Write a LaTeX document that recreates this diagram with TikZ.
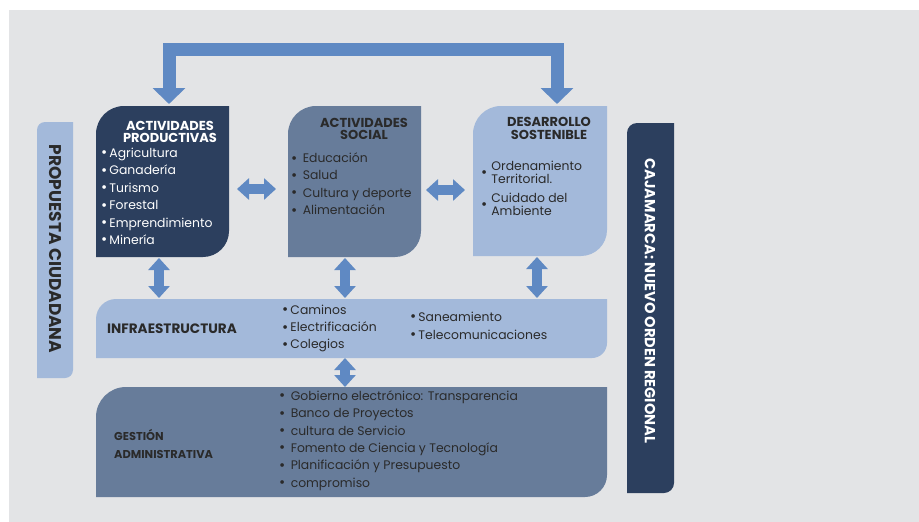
\documentclass[tikz,border=0pt]{standalone}
\usepackage{fontspec}
\setmainfont{Poppins}
\usetikzlibrary{arrows.meta,calc}
\definecolor{navy}{HTML}{2C3F5E}
\definecolor{midb}{HTML}{677C9A}
\definecolor{lightb}{HTML}{A3B9DA}
\definecolor{bggray}{HTML}{E3E4E6}
\definecolor{arrowb}{HTML}{5F89C3}
\definecolor{txtdark}{HTML}{2A2A2A}
\newcommand\cbox[7]{%
  \fill[#1] (#2,-#3-#6) arc[start angle=180,end angle=90,radius=#6pt] -- (#4,-#3)
    -- (#4,-#5+#7) arc[start angle=0,end angle=-90,radius=#7pt] -- (#2,-#5) -- cycle;}
\newcommand\bul{{\fontsize{15}{0}\selectfont\raisebox{-0.5pt}{\textbullet}}}
\tikzset{
  dtip/.tip={Triangle[width=21pt,length=12pt]},
  btip/.tip={Triangle[width=32pt,length=16pt]},
  dbl/.style={draw=arrowb, line width=10pt, dtip-dtip},
  big/.style={draw=arrowb, line width=13pt, btip-btip, line join=miter},
  area/.style={rectangle, inner sep=0pt, outer sep=0pt},
  ttl/.style={inner sep=0pt, align=center, font=\fontsize{13}{12.5}\selectfont\bfseries},
  lst/.style={inner sep=0pt, align=left, anchor=west, font=\fontsize{12.4}{17.4}\selectfont},
}
\begin{document}
\begin{tikzpicture}[x=1pt,y=1pt]
\useasboundingbox (0,0) rectangle (919,-522);
\fill[white] (0,0) rectangle (919,-522);
\fill[bggray] (9,-10) rectangle (919,-522);
% boxes
\cbox{navy}{96}{106}{229}{257}{28}{26}
\cbox{midb}{288}{106}{421}{257}{28}{26}
\cbox{lightb}{473}{106}{607}{256}{28}{26}
\cbox{lightb}{96}{299}{607}{358}{20}{15}
\cbox{midb}{96}{387}{607}{497}{30}{22}
\cbox{lightb}{37}{122}{73}{378}{8}{8}
\cbox{navy}{627}{123}{674}{493}{10}{10}
\node[area, minimum width=133pt, minimum height=151pt] (b1) at (162.5,-181.5) {};
\node[area, minimum width=133pt, minimum height=151pt] (b2) at (354.5,-181.5) {};
\node[area, minimum width=134pt, minimum height=150pt] (b3) at (540,-181) {};
\node[area, minimum width=511pt, minimum height=59pt] (infra) at (351.5,-328.5) {};
\node[area, minimum width=511pt, minimum height=110pt] (gest) at (351.5,-442) {};
% texts
\node[ttl, text=white] (b1t) at (170,-132) {ACTIVIDADES\\PRODUCTIVAS};
\node[lst, text=white] (b1l) at (101,-196.5) {\bul\,Agricultura\\\bul\,Ganadería\\\bul\,Turismo\\\bul\,Forestal\\\bul\,Emprendimiento\\\bul\,Minería};
\node[ttl, text=txtdark] (b2t) at (364,-129) {ACTIVIDADES\\SOCIAL};
\node[lst, text=txtdark] (b2l) at (291,-184) {\bul\ \,Educación\\\bul\ \,Salud\\\bul\ \,Cultura y deporte\\\bul\ \,Alimentación};
\node[ttl, text=txtdark] (b3t) at (549,-128.5) {DESARROLLO\\SOSTENIBLE};
\node[inner sep=0pt, anchor=west, text=txtdark, font=\fontsize{12.4}{11.5}\selectfont] (b3l) at (481,-190)
  {\begin{tabular}{@{}l@{\hspace{4pt}}l@{}}\bul & \begin{tabular}[c]{@{}l@{}}Ordenamiento\\Territorial.\end{tabular}\\[12pt]
   \bul & \begin{tabular}[c]{@{}l@{}}Cuidado del\\Ambiente\end{tabular}\end{tabular}};
\node[ttl, anchor=west, text=txtdark, font=\fontsize{13.6}{14}\selectfont\bfseries] (it) at (107,-329) {INFRAESTRUCTURA};
\node[lst, text=txtdark] (il1) at (282,-328.5) {\bul\,Caminos\\\bul\,Electrificación\\\bul\,Colegios};
\node[lst, text=txtdark, font=\fontsize{12.4}{18}\selectfont] (il2) at (410,-326) {\bul\,Saneamiento\\\bul\,Telecomunicaciones};
\node[ttl, anchor=west, align=left, text=txtdark, font=\fontsize{11.4}{18}\selectfont\bfseries] (gt) at (114,-444) {GESTIÓN\\ADMINISTRATIVA};
\node[lst, text=txtdark] (gl) at (279,-440.5) {\bul\ \,Gobierno electrónico: Transparencia\\\bul\ \,Banco de Proyectos\\\bul\ \,cultura de Servicio\\\bul\ \,Fomento de Ciencia y Tecnología\\\bul\ \,Planificación y Presupuesto\\\bul\ \,compromiso};
\node[rotate=-90, inner sep=0pt, text=txtdark, font=\fontsize{17}{17}\selectfont\bfseries] (pc) at (55,-249) {PROPUESTA CIUDADANA};
\node[rotate=-90, inner sep=0pt, text=white, font=\fontsize{14.6}{15}\selectfont\bfseries] (cnr) at (650,-301) {CAJAMARCA: NUEVO ORDEN REGIONAL};
% arrows
\coordinate (tl) at (169,-49.5);
\coordinate (tr) at (557,-49.5);
\draw[big, shorten <=2pt, shorten >=2pt] (b1.north -| tl) -- (tl) -- (tr) -- (b3.north -| tr);
\coordinate (h1) at (0,-189);
\coordinate (h2) at (0,-190);
\draw[dbl, shorten <=8pt, shorten >=12pt] (b1.east |- h1) -- (b2.west |- h1);
\draw[dbl, shorten <=5pt, shorten >=8pt] (b2.east |- h2) -- (b3.west |- h2);
\coordinate (v1) at (159,0);
\coordinate (v2) at (345,0);
\coordinate (v3) at (537,0);
\draw[dbl, shorten <=1pt, shorten >=1pt] (b1.south -| v1) -- (infra.north -| v1);
\draw[dbl, shorten <=1pt, shorten >=1pt] (b2.south -| v2) -- (infra.north -| v2);
\draw[dbl, shorten <=1pt, shorten >=1pt] (b3.south -| v3) -- (infra.north -| v3);
\draw[dbl, shorten <=0pt, shorten >=0pt] (infra.south -| v2) -- (gest.north -| v2);
\end{tikzpicture}
\end{document}
